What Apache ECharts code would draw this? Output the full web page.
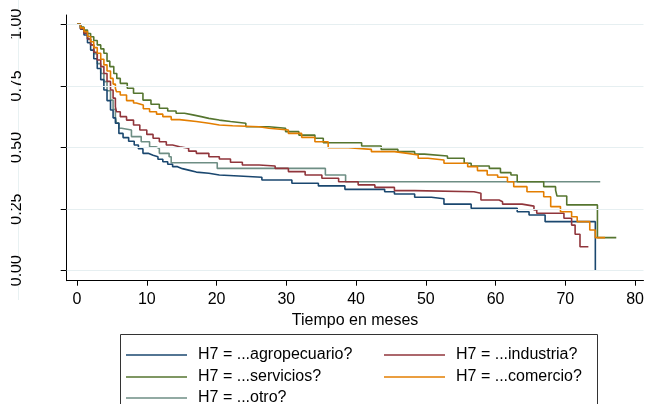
<!DOCTYPE html>
<html>
<head>
    <meta charset="utf-8">
    <title>Supervivencia por sector</title>
    <script src="https://cdn.jsdelivr.net/npm/echarts@6/dist/echarts.min.js"></script>
    <style>
        html, body { margin: 0; padding: 0; background: #fff; }
        #chart1 { width: 647px; height: 404px; }
    </style>
</head>
<body>
<div id="chart1"></div>
<script>
    // curvas Kaplan-Meier (meses, supervivencia)
    var agroT = [0, 0.5, 1, 1.5, 1.95, 2.4, 2.9, 3.4, 3.85, 4.3, 4.8, 5.17, 5.5, 6.0, 6.6, 7.4, 8.2, 8.8, 9.45, 10.2, 10.9, 11.6, 12.3, 13, 13.7, 14.4, 15.1, 16, 17.1, 18.9, 20.4, 23.2, 26.5, 30.8, 34.6, 38.4, 44.1, 45.5, 48.4, 50.8, 52.6, 56.5, 63.1, 64.8, 67.1, 74.3];
    var agroS = [1, 0.98, 0.956, 0.925, 0.895, 0.86, 0.82, 0.775, 0.733, 0.69, 0.652, 0.62, 0.598, 0.557, 0.54, 0.525, 0.51, 0.495, 0.476, 0.468, 0.462, 0.452, 0.442, 0.432, 0.422, 0.414, 0.408, 0.40, 0.395, 0.388, 0.384, 0.379, 0.368, 0.355, 0.344, 0.33, 0.32, 0.311, 0.298, 0.292, 0.27, 0.253, 0.239, 0.226, 0.199, 0];

    var indT = [0, 0.5, 1, 1.5, 1.95, 2.4, 2.9, 3.4, 3.85, 4.3, 4.8, 5.17, 5.5, 5.65, 6.2, 7.1, 8.1, 9.0, 10, 10.9, 11.8, 12.8, 13.7, 14.7, 16, 17.1, 18.9, 20.4, 22, 23.7, 26.1, 28.4, 30.3, 32.7, 35.1, 37.5, 40.3, 42.7, 45.5, 48.4, 56.9, 57.9, 60.5, 61, 63.8, 65.5, 65.9, 69.8, 70.9, 71.4, 72.1, 73.3];
    var indS = [1, 0.982, 0.963, 0.94, 0.916, 0.886, 0.855, 0.828, 0.80, 0.768, 0.733, 0.70, 0.665, 0.645, 0.625, 0.611, 0.591, 0.571, 0.553, 0.537, 0.523, 0.51, 0.503, 0.497, 0.485, 0.476, 0.462, 0.453, 0.44, 0.429, 0.425, 0.415, 0.402, 0.388, 0.375, 0.361, 0.348, 0.338, 0.325, 0.32, 0.314, 0.287, 0.28, 0.27, 0.262, 0.246, 0.233, 0.213, 0.185, 0.148, 0.097, 0.097];

    var servT = [0, 0.5, 1, 1.5, 1.95, 2.4, 2.9, 3.4, 3.85, 4.3, 4.7, 5.27, 5.7, 6.2, 7.2, 8.1, 9.45, 10.6, 11.8, 13, 14.2, 15.4, 16.6, 17.8, 18.9, 20.4, 22, 24.2, 27.5, 29.9, 31.8, 34.1, 35.3, 40.8, 43.6, 46.0, 48.4, 49.8, 53.1, 55.5, 56.5, 59.1, 60.7, 62.2, 63.1, 66.9, 68.6, 68.8, 70.2, 74.6, 77.3];
    var servS = [1, 0.988, 0.976, 0.962, 0.949, 0.934, 0.916, 0.90, 0.882, 0.85, 0.828, 0.80, 0.78, 0.76, 0.74, 0.72, 0.692, 0.675, 0.659, 0.648, 0.639, 0.632, 0.625, 0.618, 0.611, 0.605, 0.598, 0.584, 0.578, 0.564, 0.55, 0.537, 0.519, 0.506, 0.492, 0.483, 0.473, 0.465, 0.456, 0.436, 0.425, 0.415, 0.398, 0.388, 0.361, 0.341, 0.327, 0.303, 0.267, 0.134, 0.134];

    var comT = [0, 0.5, 1, 1.5, 1.95, 2.4, 2.9, 3.4, 3.85, 4.3, 4.8, 5.17, 5.5, 5.65, 6.2, 7.1, 8.1, 8.5, 9.5, 10.4, 11.4, 12.3, 13.5, 14.7, 17.1, 18.9, 20.4, 22.3, 26.1, 27.5, 30.3, 32.2, 34.1, 36.0, 38.9, 42.2, 45.5, 47.4, 48.9, 50.3, 52.6, 56, 57.4, 58.8, 60.3, 61.7, 62.6, 64.5, 66.9, 67.9, 69.3, 70.9, 71.7, 73.5, 74.3, 75.7];
    var comS = [1, 0.985, 0.97, 0.95, 0.929, 0.905, 0.882, 0.858, 0.835, 0.81, 0.78, 0.757, 0.74, 0.726, 0.713, 0.69, 0.68, 0.672, 0.657, 0.645, 0.635, 0.625, 0.613, 0.605, 0.598, 0.591, 0.588, 0.584, 0.578, 0.571, 0.557, 0.541, 0.523, 0.499, 0.492, 0.483, 0.476, 0.469, 0.456, 0.449, 0.436, 0.422, 0.406, 0.388, 0.379, 0.361, 0.341, 0.32, 0.30, 0.26, 0.239, 0.219, 0.199, 0.165, 0.134, 0.134];

    var otroT = [0, 0.5, 1, 1.5, 1.95, 2.4, 2.9, 3.4, 3.85, 4.3, 4.8, 5.17, 5.5, 5.65, 6.0, 6.4, 7.8, 9.2, 10.4, 11.3, 11.8, 13.2, 13.5, 20.1, 35.6, 38.5, 75.0];
    var otroS = [1, 0.984, 0.966, 0.94, 0.916, 0.88, 0.84, 0.80, 0.767, 0.73, 0.692, 0.655, 0.625, 0.60, 0.578, 0.571, 0.544, 0.523, 0.503, 0.496, 0.476, 0.462, 0.438, 0.415, 0.388, 0.361, 0.361];

    var xTicks = [0, 10, 20, 30, 40, 50, 60, 70, 80];
    var yTicks = [0, 0.25, 0.5, 0.75, 1];
    var nombres = ['H7 = ...agropecuario?', 'H7 = ...industria?', 'H7 = ...servicios?', 'H7 = ...comercio?', 'H7 = ...otro?'];
    var colores = ['#1a476f', '#90353b', '#55752f', '#e37e00', '#6e8e84'];

    function pares(t, s) {
        var out = [];
        for (var i = 0; i < t.length; i++) out.push([t[i], s[i]]);
        return out;
    }

    var datos = [pares(agroT, agroS), pares(indT, indS), pares(servT, servS), pares(comT, comS), pares(otroT, otroS)];
    var fuente = 'Liberation Sans, Arial, sans-serif';

    var series = [];
    // lineas de la cuadricula
    series.push({
        type: 'line', data: [], silent: true,
        markLine: {
            silent: true, symbol: 'none', label: { show: false }, animation: false,
            lineStyle: { color: '#e6eff1', width: 1, type: 'solid' },
            data: yTicks.map(function (v) { return { yAxis: v }; })
        }
    });
    // orden de dibujo: otro atras
    [4, 0, 1, 2, 3].forEach(function (i) {
        series.push({
            name: nombres[i], type: 'line', step: 'end', showSymbol: false, symbol: 'none',
            data: datos[i], color: colores[i],
            lineStyle: { width: 1.6, color: colores[i] }
        });
    });

    // leyenda: una por item, en dos columnas
    var posLeyenda = [[126, 347], [384, 347], [126, 369], [384, 369], [126, 390]];
    var leyendas = nombres.map(function (n, i) {
        return {
            data: [{ name: n, icon: 'rect', itemStyle: { color: colores[i] } }],
            left: posLeyenda[i][0], top: posLeyenda[i][1], padding: 0,
            itemWidth: 61, itemHeight: 1.5, selectedMode: false,
            textStyle: { fontFamily: fuente, fontSize: 16, color: '#000', lineHeight: 16, padding: [0, 0, 0, 6] }
        };
    });

    var myChart1 = echarts.init(document.getElementById('chart1'));
    myChart1.setOption({
        animation: false,
        backgroundColor: '#fff',
        grid: { left: 66.7, right: 0, top: 15, bottom: 123.3 },
        legend: leyendas,
        xAxis: {
            type: 'value', min: -1.48, max: 81.2,
            name: 'Tiempo en meses', nameLocation: 'middle', nameGap: 28,
            nameTextStyle: { fontFamily: fuente, fontSize: 16, color: '#000' },
            axisLine: { onZero: false, lineStyle: { color: '#000', width: 1 } },
            axisTick: { customValues: xTicks, length: 5, lineStyle: { color: '#000' } },
            axisLabel: {
                customValues: xTicks, margin: 11,
                fontFamily: fuente, fontSize: 16, color: '#000'
            },
            splitLine: { show: false }
        },
        yAxis: {
            type: 'value', min: -0.0406, max: 1.0373,
            axisLine: { show: true, onZero: false, lineStyle: { color: '#000', width: 1 } },
            axisTick: { show: true, customValues: yTicks, length: 6, lineStyle: { color: '#000' } },
            axisLabel: {
                customValues: yTicks, rotate: 90, margin: 42,
                fontFamily: fuente, fontSize: 16, color: '#000',
                formatter: function (v) { return v.toFixed(2); }
            },
            splitLine: { show: false }
        },
        graphic: [
            // borde del recuadro de la leyenda
            { type: 'rect', shape: { x: 120.5, y: 334.5, width: 477, height: 80 }, style: { fill: 'none', stroke: '#333', lineWidth: 1 }, z: 1 },
            { type: 'line', shape: { x1: 18.5, y1: 0, x2: 18.5, y2: 300 }, style: { stroke: '#e8f1f2', lineWidth: 1 }, z: 0 },
            // recorte de las etiquetas del eje y
            { type: 'rect', shape: { x: 0, y: 0, width: 11, height: 300 }, style: { fill: '#fff' }, z: 100 }
        ],
        series: series
    });
</script>
</body>
</html>
